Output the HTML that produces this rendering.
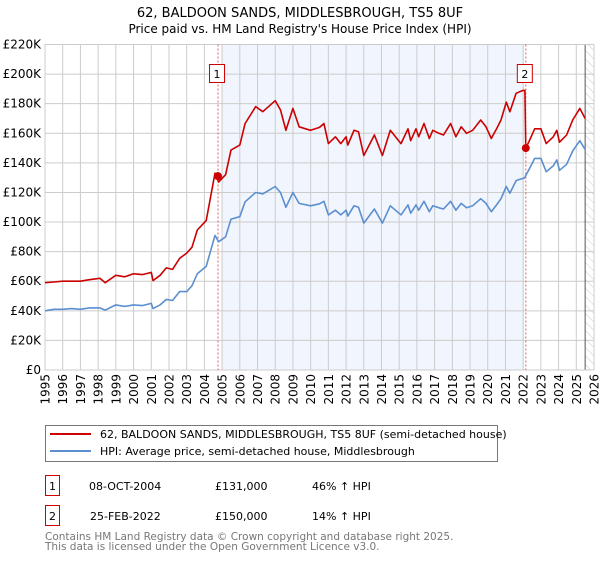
<!DOCTYPE html>
<html><head><meta charset="utf-8"><style>
body{margin:0;background:#fff;font-family:"DejaVu Sans","Liberation Sans",sans-serif;}
svg text{font-family:"DejaVu Sans","Liberation Sans",sans-serif;}
</style></head><body>
<svg id="c" width="600" height="560" xmlns="http://www.w3.org/2000/svg">
<defs><pattern id="hatch" width="6" height="6" patternUnits="userSpaceOnUse" patternTransform="rotate(-45)"><line x1="0" y1="0" x2="0" y2="6" stroke="#ccc" stroke-width="1"/></pattern></defs>
<text x="300" y="17" text-anchor="middle" font-size="13">62, BALDOON SANDS, MIDDLESBROUGH, TS5 8UF</text>
<text x="300" y="33" text-anchor="middle" font-size="12">Price paid vs. HM Land Registry's House Price Index (HPI)</text>
<g id="plot"></g>
<g>
<rect x="45.5" y="425.5" width="452" height="36" fill="#fff" stroke="#777"/>
<line x1="50" y1="434" x2="91" y2="434" stroke="#cc0000" stroke-width="2"/>
<text x="100" y="438" font-size="11">62, BALDOON SANDS, MIDDLESBROUGH, TS5 8UF (semi-detached house)</text>
<line x1="50" y1="451" x2="91" y2="451" stroke="#5b8fd0" stroke-width="2"/>
<text x="100" y="455" font-size="11">HPI: Average price, semi-detached house, Middlesbrough</text>
</g>
<g font-size="11">
<rect x="45.5" y="475.5" width="14" height="20" fill="#fff" stroke="#cc0000"/>
<text x="52.5" y="490" text-anchor="middle">1</text>
<text x="89" y="490">08-OCT-2004</text><text x="215" y="490">£131,000</text><text x="312" y="490">46% ↑ HPI</text>
<rect x="45.5" y="505.5" width="14" height="20" fill="#fff" stroke="#cc0000"/>
<text x="52.5" y="520" text-anchor="middle">2</text>
<text x="90" y="520">25-FEB-2022</text><text x="215" y="520">£150,000</text><text x="312" y="520">14% ↑ HPI</text>
</g>
<text x="45" y="540" font-size="10.5" fill="#777">Contains HM Land Registry data © Crown copyright and database right 2025.</text>
<text x="45" y="550" font-size="10.5" fill="#777">This data is licensed under the Open Government Licence v3.0.</text>
</svg>
<script>
const years=[1995,1995.5,1996,1996.5,1997,1997.5,1998.1,1998.4,1999,1999.5,2000,2000.5,2001,2001.1,2001.5,2001.85,2002.2,2002.6,2003,2003.3,2003.6,2004.1,2004.6,2004.8,2005.2,2005.5,2006,2006.3,2006.9,2007.3,2008,2008.3,2008.6,2009,2009.35,2010,2010.5,2010.75,2011,2011.4,2011.7,2012,2012.1,2012.45,2012.7,2013,2013.6,2014.05,2014.5,2015.1,2015.5,2015.65,2015.95,2016.1,2016.4,2016.7,2016.9,2017.25,2017.5,2017.9,2018.2,2018.5,2018.8,2019.15,2019.6,2019.9,2020.2,2020.5,2020.75,2021.05,2021.25,2021.6,2021.8,2022.0,2022.1,2022.15,2022.35,2022.65,2023,2023.3,2023.7,2023.9,2024.05,2024.45,2024.8,2025.2,2025.5];
const hpi=[40,41,41,41.5,41,42,42,40.5,44,43,44,43.5,45,41.5,44,47.7,47,53,53,57,65,70,91,86.7,90,102,103.6,113.7,120,119,124,120,110,120,112.6,111,112.3,114,104.8,108,104.8,108,104,111,110,99.3,108.8,99.3,111,104.8,111.6,106,111.6,108,114,107,111,109.6,108.8,114,108,112.6,109.6,111,115.8,112.6,107,111.6,115.8,124,119.5,128,128.8,129.5,130,131.6,136,143,143,134,138,142,135,139,148,155,149];
const price=[59,59.5,60,60,60,61,62,59,64,63,65,64.5,66,60.4,64,69,68,75.4,79,83,94.6,101,133,127,132,148.6,152,166.6,178,174.6,182,175.7,162,176.8,164.4,162,164,166.6,153,157.6,153,157.6,152,162,161,145,158.8,145,162,153,163,155,163,157.6,166.6,156.5,162,160,158.8,166.6,157.6,164.4,160,162,169,164.4,156.5,163,169,181,174.5,187,188,189,189,150,155,163,163,153,157.6,162,154,158.8,169,176.8,170];
const saleYears=[2004.77,2022.15];
const salePrices=[131,150];
const yTicks=[0,20,40,60,80,100,120,140,160,180,200,220];
const xTicks=[1995,1996,1997,1998,1999,2000,2001,2002,2003,2004,2005,2006,2007,2008,2009,2010,2011,2012,2013,2014,2015,2016,2017,2018,2019,2020,2021,2022,2023,2024,2025,2026];
const L=45,R=594,T=44.5,B=370;
const X=y=>L+(y-1995)/31*(R-L);
const Y=v=>B-v/220*(B-T);
const NS="http://www.w3.org/2000/svg";
const g=document.getElementById('plot');
function mk(t,a,p){const e=document.createElementNS(NS,t);for(const k in a)e.setAttribute(k,a[k]);(p||g).appendChild(e);return e;}
const bg=mk('rect',{x:L,y:T,width:R-L,height:B-T,fill:'#fff'});


const sh=mk('rect',{x:X(2005),y:T,width:X(2022.05)-X(2005),height:B-T,fill:'#eef3fc',opacity:0.8});


const ht=mk('rect',{x:X(2025.5),y:T,width:R-X(2025.5),height:B-T,fill:'url(#hatch)'});


yTicks.forEach(v=>{
 const l=mk('line',{x1:L,x2:R,y1:Y(v),y2:Y(v),stroke:'#ccc','stroke-width':1});
 
 
 const t=mk('text',{x:L-4,y:Y(v)+4,'text-anchor':'end','font-size':12});
 t.textContent=v===0?'£0':'£'+v+'K';
 
 
});
xTicks.forEach(v=>{
 const l=mk('line',{x1:X(v),x2:X(v),y1:T,y2:B,stroke:'#ccc','stroke-width':1});
 
 
 const xx=X(v)+4.5,yy=B+4;
 const t=mk('text',{x:xx,y:yy,'text-anchor':'end','font-size':12,transform:'rotate(-90 '+xx+' '+yy+')'});
 t.textContent=v;
 
 
});
const fl=mk('line',{x1:X(2025.5),x2:X(2025.5),y1:T,y2:B,stroke:'#555','stroke-width':1});


const fr=mk('rect',{x:L,y:T,width:R-L,height:B-T,fill:'none',stroke:'#ccc'});


saleYears.forEach((s,i)=>{
 const l=mk('line',{x1:X(s),x2:X(s),y1:T,y2:B,stroke:'#e06060','stroke-width':1,'stroke-dasharray':'2,2'});
 
 
});
function path(arr,col){
 const d=arr.map((v,i)=>(i?'L':'M')+X(years[i]).toFixed(1)+','+Y(v).toFixed(1)).join('');
 return mk('path',{d:d,fill:'none',stroke:col,'stroke-width':1.6,'stroke-linejoin':'round'});
}
const hp=path(hpi,'#5b8fd0');


const pp=path(price,'#cc0000');


saleYears.forEach((s,i)=>{
 const c=mk('circle',{cx:X(s),cy:Y(salePrices[i]),r:4,fill:'#cc0000'});
 
 
 const bx=mk('rect',{x:X(s)-8.5,y:64.5,width:15,height:18,fill:'#fff',stroke:'#cc0000'});
 
 
 const t=mk('text',{x:X(s)-1,y:78,'text-anchor':'middle','font-size':11});
 t.textContent=String(i+1);
 
 
});
</script>
</body></html>
